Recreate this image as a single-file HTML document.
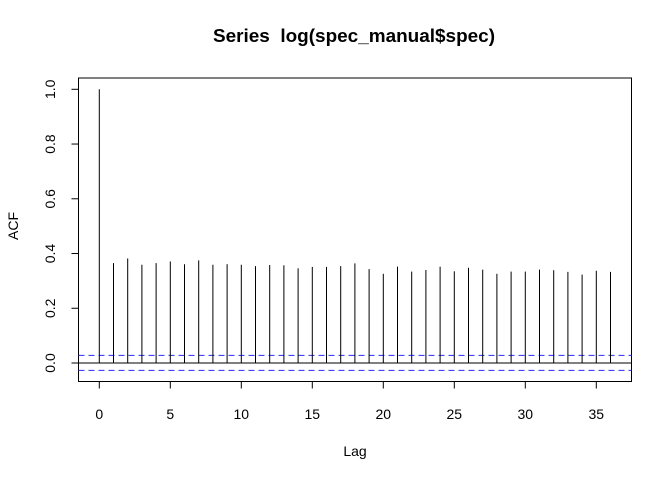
<!DOCTYPE html>
<html><head><meta charset="utf-8"><style>
html,body{margin:0;padding:0;background:#fff;}
svg{display:block;font-family:"Liberation Sans",Arial,sans-serif;}
</style></head><body>
<svg id="chart" width="672" height="480">
<text x="354" y="42" text-anchor="middle" font-size="18" font-weight="bold" textLength="282" lengthAdjust="spacingAndGlyphs" style="white-space:pre" xml:space="preserve">Series  log(spec_manual$spec)</text>
<text x="355" y="456" text-anchor="middle" font-size="14">Lag</text>
<text transform="translate(18,226) rotate(-90)" text-anchor="middle" font-size="14">ACF</text>
<rect x="78.5" y="78" width="553" height="303.5" fill="none" stroke="#000"/>
<g id="marks"></g>
</svg>
<script>
const lags=[0,1,2,3,4,5,6,7,8,9,10,11,12,13,14,15,16,17,18,19,20,21,22,23,24,25,26,27,28,29,30,31,32,33,34,35,36];
const acf=[1,0.365,0.382,0.359,0.365,0.371,0.361,0.375,0.359,0.361,0.359,0.354,0.358,0.357,0.346,0.351,0.351,0.354,0.364,0.343,0.326,0.352,0.334,0.340,0.352,0.335,0.348,0.341,0.326,0.334,0.334,0.341,0.339,0.333,0.323,0.337,0.333];
const ciBound=[0.028,-0.027];
const xTicks=[0,5,10,15,20,25,30,35];
const yTicks=[0,0.2,0.4,0.6,0.8,1.0];
const yTickLabels=["0.0","0.2","0.4","0.6","0.8","1.0"];
const NS="http://www.w3.org/2000/svg";
const X=v=>99.3+v*14.2;
const Y=v=>363-v*273.7;
const g=document.getElementById('marks');
function mk(t,a){const e=document.createElementNS(NS,t);for(const k in a)e.setAttribute(k,a[k]);g.appendChild(e);return e;}
let z=mk('line',{x1:78.5,x2:631.5,y1:Y(0),y2:Y(0),stroke:'#000'});


ciBound.forEach((c,i)=>{const l=mk('line',{x1:78.5,x2:631.5,y1:Y(c),y2:Y(c),stroke:'#2a2aff','stroke-dasharray':'6,4'});

});
lags.forEach((k,i)=>{const l=mk('line',{x1:X(k),x2:X(k),y1:Y(0),y2:Y(acf[i]),stroke:'#000'});

});
xTicks.forEach(t=>{const l=mk('line',{x1:X(t),x2:X(t),y1:381.5,y2:388.5,stroke:'#000'});


const tx=mk('text',{x:X(t),y:419,'text-anchor':'middle','font-size':14});tx.textContent=t;

});
yTicks.forEach((t,i)=>{const l=mk('line',{x1:71.5,x2:78.5,y1:Y(t),y2:Y(t),stroke:'#000'});


const tx=mk('text',{transform:`translate(55,${Y(t)}) rotate(-90)`,'text-anchor':'middle','font-size':14});tx.textContent=yTickLabels[i];

});
</script>
</body></html>
